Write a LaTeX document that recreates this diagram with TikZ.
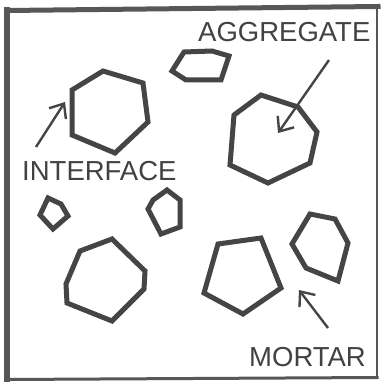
\documentclass[tikz,border=0pt]{standalone}
\usepackage{fontspec}
\setmainfont{Liberation Sans}
\usetikzlibrary{arrows.meta}
\definecolor{ink}{gray}{0.27}
\definecolor{txt}{gray}{0.26}
\tikzset{
  grain/.style={draw=ink, line width=5pt, line join=miter},
  frameline/.style={draw=ink!90, line cap=rect},
  pointer/.style={draw=ink, line width=2.4pt, -{Straight Barb[length=12pt,width=20pt,line width=2.4pt]}},
  label/.style={text=txt, font=\fontsize{27.5}{27.5}\selectfont, inner sep=0pt, anchor=base west}
}
\begin{document}
\begin{tikzpicture}[x=1pt,y=-1pt]
\useasboundingbox (0,0) rectangle (382,382);
\fill[white] (0,0) rectangle (382,382);
% frame
\draw[frameline, line width=6pt] (7,10) -- (7,380);
\draw[frameline, line width=5pt] (7,10.5) -- (378,6.5);
\draw[frameline, line width=2.5pt] (377,6.5) -- (377,378);
\draw[frameline, line width=3pt] (7,379.5) -- (377,377.5);
% grains
\draw[grain] (72,90) -- (103,71) -- (143,83) -- (148,122) -- (115,153) -- (72,135) -- cycle;
\draw[grain] (172,71) -- (184,52) -- (212,51) -- (229,56) -- (221,80) -- (186,80) -- cycle;
\draw[grain] (261,95) -- (298,107) -- (317,132) -- (310,163) -- (268,183) -- (230,165) -- (234,115) -- cycle;
\draw[grain] (48,198) -- (61,204) -- (68,216) -- (53,229) -- (40,215) -- cycle;
\draw[grain] (167,190) -- (180,200) -- (180,227) -- (161,234) -- (148,209) -- (153,200) -- cycle;
\draw[grain] (112,239) -- (145,271) -- (144,289) -- (112,321) -- (67,303) -- (66,284) -- (80,251) -- cycle;
\draw[grain] (218,244) -- (261,238) -- (281,288) -- (243,314) -- (204,293) -- cycle;
\draw[grain] (310,214) -- (335,219) -- (348,243) -- (338,281) -- (306,268) -- (292,244) -- cycle;
% labels
\node[label] (agg) at (198,42) {AGGREGATE};
\node[label] (int) at (22,180) {INTERFACE};
\node[label] (mor) at (249,366) {MORTAR};
% arrows
\coordinate (aggS) at (329,60);
\coordinate (aggT) at (278,133);
\coordinate (intS) at (36,147);
\coordinate (intT) at (65,102);
\coordinate (morS) at (328,328);
\coordinate (morT) at (299,290);
\draw[pointer] (aggS) -- (aggT);
\draw[pointer] (intS) -- (intT);
\draw[pointer] (morS) -- (morT);
\end{tikzpicture}
\end{document}
